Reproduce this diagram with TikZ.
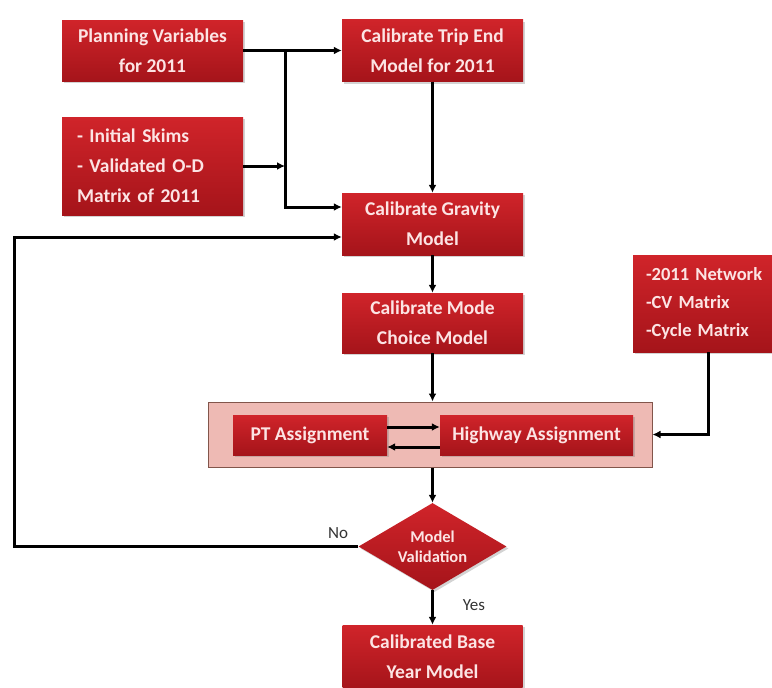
\documentclass[tikz,border=0pt]{standalone}
\usepackage{fontspec}
\setmainfont{Carlito}
\usetikzlibrary{arrows.meta,positioning,shapes.geometric,shadows}
\definecolor{boxred}{RGB}{208,36,42}
\definecolor{boxdark}{RGB}{165,20,26}
\definecolor{boxtext}{RGB}{252,228,228}
\definecolor{bandpink}{RGB}{238,186,180}
\definecolor{bandedge}{RGB}{130,85,75}

\begin{document}
\begin{tikzpicture}[x=1pt,y=-1pt,
    redbox/.style={rectangle, top color=boxred, bottom color=boxdark, draw=none,
      text=boxtext, font=\bfseries\fontsize{19.5}{30}\selectfont, align=center, inner sep=0pt,
      drop shadow={shadow xshift=2pt,shadow yshift=-2pt,opacity=.35}},
    flow/.style={line width=3pt, -{Latex[length=8pt,width=8pt]}},
    tag/.style={font=\fontsize{17}{20}\selectfont, text=black!80}]
    \useasboundingbox (0,0) rectangle (772,688);

    % inputs
    \node[redbox, minimum width=181pt, minimum height=61pt] (plan) at (152.5,50.5)
        {Planning Variables\\for 2011};
    \node[redbox, minimum width=181pt, minimum height=98pt, text width=151pt, align=left] (skims) at (152.5,166)
        {- Initial Skims\\- Validated O-D\\Matrix of 2011};
    \node[redbox, minimum width=150pt, minimum height=97pt, text width=124pt, align=left,
        font=\bfseries\fontsize{18.5}{28}\selectfont] (net) at (708,303.5)
        {-2011 Network\\-CV Matrix\\-Cycle Matrix};

    % main column
    \node[redbox, minimum width=181pt, minimum height=62pt] (trip) at (432.5,50.5)
        {Calibrate Trip End\\Model for 2011};
    \node[redbox, minimum width=181pt, minimum height=62pt] (grav) at (432.5,224)
        {Calibrate Gravity\\Model};
    \node[redbox, minimum width=181pt, minimum height=60pt] (mode) at (432.5,323)
        {Calibrate Mode\\Choice Model};

    % assignment band
    \node[draw=bandedge, fill=bandpink, line width=1pt, minimum width=444pt, minimum height=65pt] (band) at (430,434.5) {};
    \node[redbox, minimum width=154pt, minimum height=40pt] (pt) at (310,435) {PT Assignment};
    \node[redbox, minimum width=193pt, minimum height=40pt] (hw) at (536.5,435) {Highway Assignment};

    % check and result
    \node[redbox, diamond, aspect=1.7, minimum width=148pt, minimum height=87pt,
        font=\bfseries\fontsize{16.5}{20}\selectfont] (valid) at (432.5,546.5) {Model\\Validation};
    \node[redbox, minimum width=180pt, minimum height=64pt] (final) at (432.5,657)
        {Calibrated Base\\Year Model};

    % connectors
    \coordinate (j1) at (285,50.5);
    \coordinate (back) at (14,546.5);
    \draw[flow] (plan.east) -- (trip.west);
    \draw[flow] (skims.east) -- (skims.east -| j1);
    \draw[flow] (j1) |- ([yshift=17pt]grav.west);
    \draw[flow] (trip.south) -- (grav.north);
    \draw[flow] (grav.south) -- (mode.north);
    \draw[flow] (mode.south) -- (mode.south |- band.north);
    \draw[flow] ([yshift=8pt]pt.east) -- ([yshift=8pt]hw.west);
    \draw[flow] ([yshift=-12pt]hw.west) -- ([yshift=-12pt]pt.east);
    \draw[flow] (net.south) |- (band.east);
    \draw[flow] (valid.north |- band.south) -- (valid.north);
    \draw[flow] (valid.west) -- (back) |- ([yshift=-13pt]grav.west);
    \draw[flow] (valid.south) -- (final.north);

    \node[tag] (no) at (338,533) {No};
    \node[tag] (yes) at (474,605) {Yes};
\end{tikzpicture}
\end{document}
